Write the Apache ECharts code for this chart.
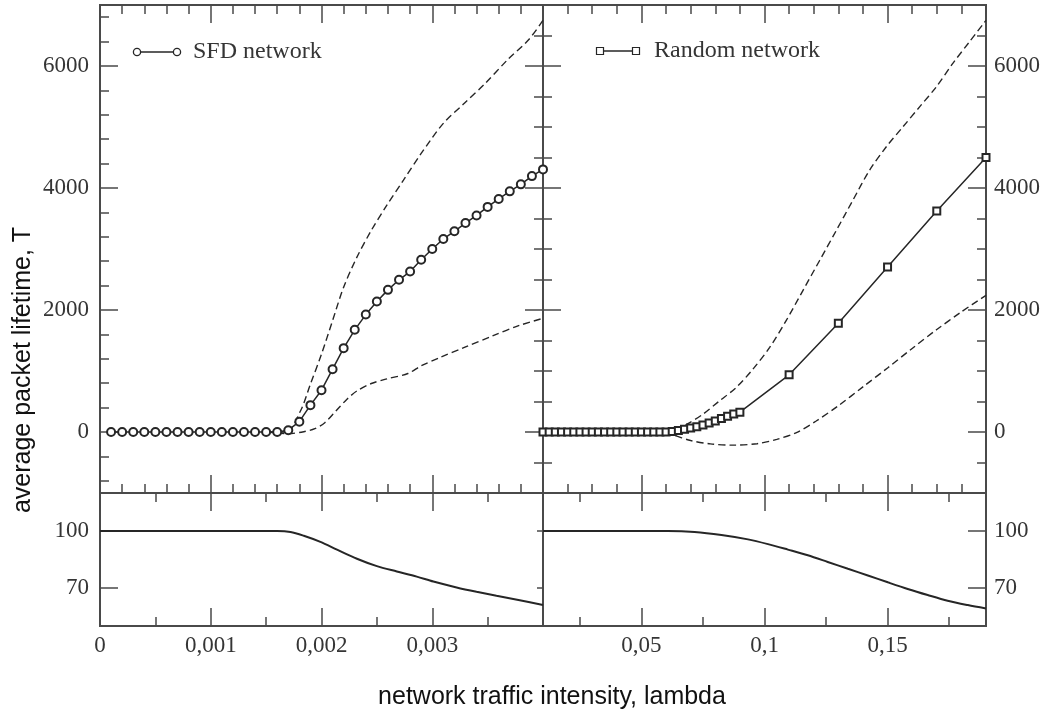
<!DOCTYPE html>
<html>
<head>
<meta charset="utf-8">
<script src="https://cdn.jsdelivr.net/npm/echarts@6/dist/echarts.min.js"></script>
<style>
html, body { margin: 0; background: #fff; }
#chart { width: 1051px; height: 713px; }
</style>
</head>
<body>
<div id="chart"></div>
<script>
// ---- data ----
var sfdLambda = [0.0001, 0.0002, 0.0003, 0.0004, 0.0005, 0.0006, 0.0007, 0.0008, 0.0009, 0.0010,
    0.0011, 0.0012, 0.0013, 0.0014, 0.0015, 0.0016, 0.0017, 0.0018, 0.0019, 0.0020,
    0.0021, 0.0022, 0.0023, 0.0024, 0.0025, 0.0026, 0.0027, 0.0028, 0.0029, 0.0030,
    0.0031, 0.0032, 0.0033, 0.0034, 0.0035, 0.0036, 0.0037, 0.0038, 0.0039, 0.0040];
var sfdT = [0, 0, 0, 0, 0, 0, 0, 0, 0, 0, 0, 0, 0, 0, 0, 0, 30, 170, 440, 685,
    1030, 1375, 1675, 1925, 2140, 2330, 2495, 2630, 2825, 3000,
    3165, 3290, 3425, 3550, 3690, 3820, 3945, 4060, 4195, 4305];

var sfdUpLambda = [0.0015, 0.00168, 0.00181, 0.0019, 0.002, 0.0021, 0.0022, 0.00232, 0.00245,
    0.00258, 0.00274, 0.0029, 0.0031, 0.00329, 0.00348, 0.00368, 0.00387, 0.004];
var sfdUpT = [0, 0, 345, 784, 1277, 1826, 2374, 2867, 3306, 3689, 4128, 4566, 5060, 5389,
    5718, 6102, 6430, 6748];
var sfdLowLambda = [0.0015, 0.0017, 0.00184, 0.00194, 0.00203, 0.00213, 0.00223, 0.00232, 0.00245,
    0.00258, 0.00278, 0.0029, 0.00307, 0.00329, 0.00355, 0.00378, 0.004];
var sfdLowT = [0, -27, 5, 55, 153, 345, 537, 674, 795, 866, 959, 1085, 1222, 1387, 1579, 1743, 1864];

var rndLambda = [0.01, 0.0125, 0.015, 0.0175, 0.02, 0.0225, 0.025, 0.0275, 0.03, 0.0325,
    0.035, 0.0375, 0.04, 0.0425, 0.045, 0.0475, 0.05, 0.0525, 0.055, 0.0575,
    0.06, 0.0625, 0.065, 0.0675, 0.07, 0.0725, 0.075, 0.0775, 0.08, 0.0825,
    0.085, 0.0875, 0.09, 0.11, 0.13, 0.15, 0.17, 0.19];
var rndT = [0, 0, 0, 0, 0, 0, 0, 0, 0, 0, 0, 0, 0, 0, 0, 0, 0, 0, 0, 0,
    0, 8, 25, 45, 65, 88, 115, 147, 182, 220, 258, 295, 325, 937, 1782, 2703, 3624, 4501];

var rndUpLambda = [0.055, 0.0615, 0.0683, 0.0749, 0.0817, 0.0885, 0.0953, 0.1021, 0.1088, 0.1156,
    0.1224, 0.1292, 0.1359, 0.1427, 0.1495, 0.1563, 0.1631, 0.1699, 0.1766, 0.1834, 0.19];
var rndUpT = [0, 16, 126, 290, 510, 729, 1031, 1387, 1826, 2319, 2812, 3306, 3799, 4292, 4676,
    5005, 5334, 5663, 6047, 6403, 6748];
var rndLowLambda = [0.055, 0.062, 0.07, 0.078, 0.087, 0.097, 0.105, 0.113, 0.121, 0.13,
    0.14, 0.15, 0.16, 0.17, 0.18, 0.19];
var rndLowT = [0, -40, -140, -195, -215, -192, -120, -10, 180, 430, 740, 1050, 1370, 1680, 1970, 2240];

var sfdBotLambda = [0, 0.0016, 0.00172, 0.00184, 0.00199, 0.00214, 0.00232, 0.0025, 0.00268,
    0.00286, 0.00301, 0.00322, 0.0034, 0.00358, 0.00379, 0.004];
var sfdBotVal = [100, 100, 99.5, 97.5, 94.3, 90.2, 85.4, 81.5, 78.7, 76.0, 73.4, 70.3, 68.0, 65.9, 63.6, 61.1];
var rndBotLambda = [0.01, 0.0608, 0.0716, 0.0825, 0.0933, 0.1014, 0.1095, 0.1176, 0.1257, 0.1339,
    0.142, 0.1501, 0.1582, 0.1663, 0.1744, 0.1826, 0.19];
var rndBotVal = [100, 100, 99.5, 97.9, 95.6, 93.1, 90.2, 87.2, 83.7, 80.1, 76.6, 73.0, 69.5, 66.3, 63.3, 61.0, 59.2];

// ---- axes / ticks ----
var sfdRange = [0, 0.004];
var rndRange = [0.01, 0.19];
var topRange = [-1000, 7000];
var botRange = [50, 120];

var sfdMajor = [0, 0.001, 0.002, 0.003, 0.004];
var sfdLabels = [0, 0.001, 0.002, 0.003];
var rndMajor = [0.05, 0.1, 0.15];
var rndLabels = [0.05, 0.1, 0.15];
var rndBotMinor = [0.025, 0.075, 0.125, 0.175];
var topMajor = [0, 2000, 4000, 6000];
var botMajor = [70, 100];

var INK = '#262626', FRAME = '#4a4a4a', LABEL = '#353535';

function steps(a, b, d) {
    var out = [];
    for (var v = a; v <= b + d / 1000; v += d) out.push(+v.toFixed(6));
    return out;
}
function comma(v) {
    return String(+(+v).toFixed(4)).replace('.', ',');
}

var xAxes = [], yAxes = [];
function tickAxis(list, grid, pos, range, ticks, len, labels, margin) {
    var ax = {
        type: 'value', gridIndex: grid, position: pos, min: range[0], max: range[1],
        axisLine: { show: false, onZero: false },
        splitLine: { show: false },
        axisTick: { show: true, inside: true, length: len, customValues: ticks, lineStyle: { color: FRAME, width: 1.5 } },
        axisLabel: { show: false }
    };
    if (labels) {
        ax.axisLabel = {
            show: true, customValues: labels, margin: margin,
            fontFamily: 'Liberation Serif', fontSize: 23, color: LABEL,
            formatter: list === xAxes ? comma : function (v) { return String(v); }
        };
    }
    list.push(ax);
    return list.length - 1;
}

var MAJ = 18, MIN = 9;
var grids = [
    { left: 100, top: 5, width: 443, height: 488 },
    { left: 543, top: 5, width: 443, height: 488 },
    { left: 100, top: 493, width: 443, height: 133 },
    { left: 543, top: 493, width: 443, height: 133 }
].map(function (g) {
    g.show = true; g.borderColor = FRAME; g.borderWidth = 2; g.backgroundColor = 'transparent';
    return g;
});

// grid 0 : SFD, top
var gx0 = tickAxis(xAxes, 0, 'bottom', sfdRange, sfdMajor, MAJ);
tickAxis(xAxes, 0, 'bottom', sfdRange, steps(0, 0.004, 0.0002), MIN);
tickAxis(xAxes, 0, 'top', sfdRange, sfdMajor, MAJ);
tickAxis(xAxes, 0, 'top', sfdRange, steps(0, 0.004, 0.0002), MIN);
var gy0 = tickAxis(yAxes, 0, 'left', topRange, topMajor, MAJ, topMajor, 11);
tickAxis(yAxes, 0, 'left', topRange, steps(-800, 6800, 400), MIN);
tickAxis(yAxes, 0, 'right', topRange, topMajor, MAJ);
tickAxis(yAxes, 0, 'right', topRange, steps(-500, 6500, 500), MIN);

// grid 1 : Random, top
var gx1 = tickAxis(xAxes, 1, 'bottom', rndRange, rndMajor, MAJ);
tickAxis(xAxes, 1, 'bottom', rndRange, steps(0.01, 0.19, 0.01), MIN);
tickAxis(xAxes, 1, 'top', rndRange, rndMajor, MAJ);
tickAxis(xAxes, 1, 'top', rndRange, steps(0.01, 0.19, 0.01), MIN);
var gy1 = tickAxis(yAxes, 1, 'right', topRange, topMajor, MAJ, topMajor, 8);
tickAxis(yAxes, 1, 'right', topRange, steps(-500, 6500, 500), MIN);
tickAxis(yAxes, 1, 'left', topRange, topMajor, MAJ);
tickAxis(yAxes, 1, 'left', topRange, steps(-500, 6500, 500), MIN);

// grid 2 : SFD, bottom
var gx2 = tickAxis(xAxes, 2, 'bottom', sfdRange, sfdMajor, MAJ, sfdLabels, 8);
tickAxis(xAxes, 2, 'bottom', sfdRange, steps(0, 0.004, 0.0005), MIN);
tickAxis(xAxes, 2, 'top', sfdRange, sfdMajor, MAJ);
tickAxis(xAxes, 2, 'top', sfdRange, steps(0, 0.004, 0.0005), MIN);
var gy2 = tickAxis(yAxes, 2, 'left', botRange, botMajor, MAJ, botMajor, 11);
tickAxis(yAxes, 2, 'right', botRange, botMajor, 6);

// grid 3 : Random, bottom
var gx3 = tickAxis(xAxes, 3, 'bottom', rndRange, rndMajor, MAJ, rndLabels, 8);
tickAxis(xAxes, 3, 'bottom', rndRange, rndBotMinor, MIN);
tickAxis(xAxes, 3, 'top', rndRange, rndMajor, MAJ);
tickAxis(xAxes, 3, 'top', rndRange, rndBotMinor, MIN);
var gy3 = tickAxis(yAxes, 3, 'right', botRange, botMajor, MAJ, botMajor, 8);

function pts(xs, ys) {
    return xs.map(function (x, i) { return [x, ys[i]]; });
}
function dashed(name, xi, yi, data) {
    return {
        name: name, type: 'line', xAxisIndex: xi, yAxisIndex: yi, data: data,
        showSymbol: false, smooth: 0.3, z: 2,
        lineStyle: { color: INK, width: 1.4, type: [7, 4] }
    };
}

var option = {
    animation: false,
    backgroundColor: '#fff',
    grid: grids,
    xAxis: xAxes,
    yAxis: yAxes,
    series: [
        dashed('SFD upper', gx0, gy0, pts(sfdUpLambda, sfdUpT)),
        dashed('SFD lower', gx0, gy0, pts(sfdLowLambda, sfdLowT)),
        {
            name: 'SFD network', type: 'line', xAxisIndex: gx0, yAxisIndex: gy0,
            data: pts(sfdLambda, sfdT), symbol: 'emptyCircle', symbolSize: 8, z: 3,
            lineStyle: { color: INK, width: 1.5 },
            itemStyle: { color: INK, borderWidth: 1.3 }
        },
        dashed('Random upper', gx1, gy1, pts(rndUpLambda, rndUpT)),
        dashed('Random lower', gx1, gy1, pts(rndLowLambda, rndLowT)),
        {
            name: 'Random network', type: 'line', xAxisIndex: gx1, yAxisIndex: gy1,
            data: pts(rndLambda, rndT), symbol: 'emptyRect', symbolSize: 7, z: 3,
            lineStyle: { color: INK, width: 1.5 },
            itemStyle: { color: INK, borderWidth: 1.2 }
        },
        {
            name: 'SFD bottom', type: 'line', xAxisIndex: gx2, yAxisIndex: gy2,
            data: pts(sfdBotLambda, sfdBotVal), showSymbol: false, smooth: 0.3,
            lineStyle: { color: INK, width: 2 }
        },
        {
            name: 'Random bottom', type: 'line', xAxisIndex: gx3, yAxisIndex: gy3,
            data: pts(rndBotLambda, rndBotVal), showSymbol: false, smooth: 0.3,
            lineStyle: { color: INK, width: 2 }
        }
    ],
    graphic: [
        // legend: SFD network
        { type: 'line', shape: { x1: 137, y1: 52, x2: 177, y2: 52 }, style: { stroke: INK, lineWidth: 1.5 } },
        { type: 'circle', shape: { cx: 137, cy: 52, r: 3.6 }, style: { fill: '#fff', stroke: INK, lineWidth: 1.3 } },
        { type: 'circle', shape: { cx: 177, cy: 52, r: 3.6 }, style: { fill: '#fff', stroke: INK, lineWidth: 1.3 } },
        { type: 'text', x: 193, y: 52, style: { text: 'SFD network', fill: LABEL, fontFamily: 'Liberation Serif', fontSize: 24, verticalAlign: 'middle' } },
        // legend: Random network
        { type: 'line', shape: { x1: 600, y1: 51, x2: 636, y2: 51 }, style: { stroke: INK, lineWidth: 1.5 } },
        { type: 'rect', shape: { x: 596.5, y: 47.5, width: 7, height: 7 }, style: { fill: '#fff', stroke: INK, lineWidth: 1.2 } },
        { type: 'rect', shape: { x: 632.5, y: 47.5, width: 7, height: 7 }, style: { fill: '#fff', stroke: INK, lineWidth: 1.2 } },
        { type: 'text', x: 654, y: 51, style: { text: 'Random network', fill: LABEL, fontFamily: 'Liberation Serif', fontSize: 24, verticalAlign: 'middle' } },
        // shared axis titles
        { type: 'text', x: 23, y: 370, rotation: Math.PI / 2, style: { text: 'average packet lifetime, T', fill: '#111', fontFamily: 'Liberation Sans', fontSize: 25, align: 'center', verticalAlign: 'middle' } },
        { type: 'text', x: 552, y: 697, style: { text: 'network traffic intensity, lambda', fill: '#111', fontFamily: 'Liberation Sans', fontSize: 25, align: 'center', verticalAlign: 'middle' } }
    ]
};

var chart = echarts.init(document.getElementById('chart'), null, { renderer: 'canvas' });
chart.setOption(option);
</script>
</body>
</html>
